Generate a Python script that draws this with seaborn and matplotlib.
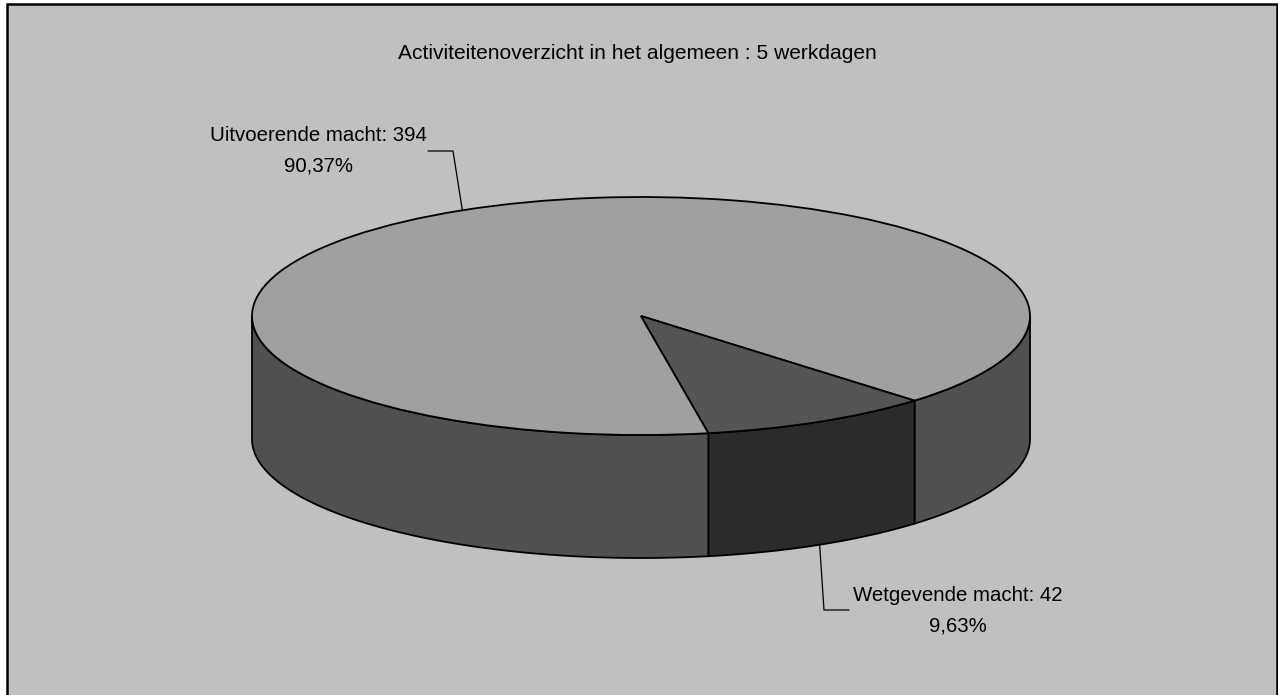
import numpy as np
import seaborn as sns
from matplotlib import pyplot as plt
from matplotlib.patches import Rectangle, Polygon

sns.set_theme(style="white")
plt.rcParams['font.family'] = ['Liberation Sans', 'DejaVu Sans']

# data
labels = ["Uitvoerende macht", "Wetgevende macht"]
counts = [394, 42]
pct_text = ["90,37%", "9,63%"]
title = "Activiteitenoverzicht in het algemeen : 5 werkdagen"

top_colors = ["#A0A0A0", "#555555"]
side_colors = ["#505050", "#2B2B2B"]
panel_color = "#C0C0C0"

W, H = 1278, 695
fig = plt.figure(figsize=(W / 100, H / 100), dpi=100)
fig.patch.set_facecolor("white")

# background axes in pixel coordinates
bg = fig.add_axes([0, 0, 1, 1])
bg.set_xlim(0, W)
bg.set_ylim(H, 0)
bg.axis("off")
bg.add_patch(Rectangle((7, 4), 1270, 700, facecolor=panel_color,
                       edgecolor="black", linewidth=1.8))
bg.text(637, 59, title, ha="center", va="baseline", fontsize=15.1,
        color="black")

# pie geometry (pixels)
cx, cy, rx, ry = 641, 316, 389, 119
depth = 123 / ry

ax = fig.add_axes([0, 0, 1, 1], zorder=2)
ax.patch.set_alpha(0)


def to_data(px, py):
    return (px - cx) / rx, (cy - py) / ry


start = 280
fracs = np.array(counts) / sum(counts)
# slice angle ranges (clockwise from start), as ccw [a, b]
bounds = []
a_end = start
for f in fracs:
    a_next = a_end - f * 360
    bounds.append((a_next, a_end))
    a_end = a_next


def front_parts(a, b):
    parts = []
    for shift in (-360, 0, 360):
        lo = max(a + shift, -180)
        hi = min(b + shift, 0)
        if hi > lo:
            parts.append((lo, hi))
    return parts


# side walls
for (a, b), col in zip(bounds, side_colors):
    for lo, hi in front_parts(a, b):
        t = np.radians(np.linspace(lo, hi, 200))
        xs = np.cos(t)
        ys = np.sin(t)
        pts = np.column_stack([np.r_[xs, xs[::-1]],
                               np.r_[ys, ys[::-1] - depth]])
        ax.add_patch(Polygon(pts, closed=True, facecolor=col,
                             edgecolor="black", linewidth=1.3))

# top face
ax.pie(counts, colors=top_colors, startangle=start, counterclock=False,
       radius=1, center=(0, 0),
       wedgeprops=dict(edgecolor="black", linewidth=1.3))
ax.set_aspect("auto")
ax.set_xlim((0 - cx) / rx, (W - cx) / rx)
ax.set_ylim((cy - H) / ry, cy / ry)
ax.axis("off")

# labels with leader lines
mids = [np.radians((a + b) / 2) for a, b in bounds]

# Uitvoerende: anchored on top rim
m = mids[0]
p0 = (np.cos(m), np.sin(m))
e1 = to_data(453, 151)
e2 = to_data(428, 151)
ax.plot([p0[0], e1[0], e2[0]], [p0[1], e1[1], e2[1]], color="black", lw=0.9)
bg.text(318.5, 141, f"{labels[0]}: {counts[0]}", ha="center", va="baseline",
        fontsize=14.7, color="black")
bg.text(318.5, 172, pct_text[0], ha="center", va="baseline",
        fontsize=14.7, color="black")

# Wetgevende: anchored on bottom rim
m = mids[1]
p1 = (np.cos(m), np.sin(m) - depth)
e1 = to_data(824, 610)
e2 = to_data(849, 610)
ax.plot([p1[0], e1[0], e2[0]], [p1[1], e1[1], e2[1]], color="black", lw=0.9)
bg.text(958, 601, f"{labels[1]}: {counts[1]}", ha="center", va="baseline",
        fontsize=14.7, color="black")
bg.text(958, 632, pct_text[1], ha="center", va="baseline",
        fontsize=14.7, color="black")

fig.savefig("out.png", dpi=100, facecolor=fig.get_facecolor())
